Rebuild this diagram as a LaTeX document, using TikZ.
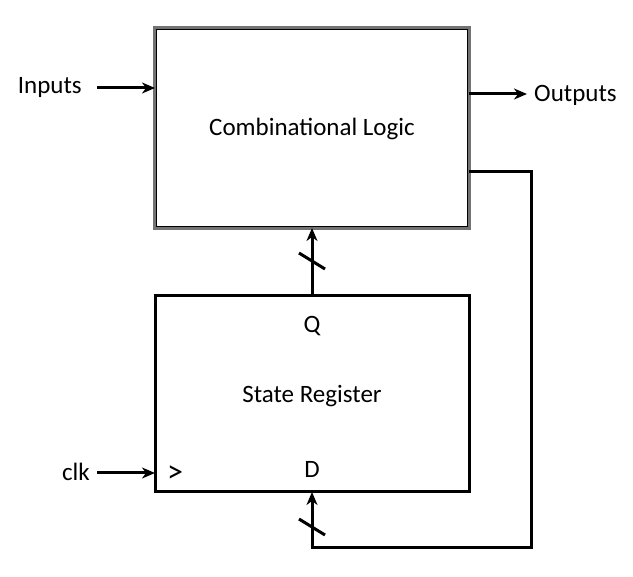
\documentclass[tikz,border=0pt]{standalone}
\usepackage{fontspec}
\setmainfont{Carlito}
\usetikzlibrary{arrows.meta}
\begin{document}
\begin{tikzpicture}[x=1pt,y=-1pt,
  wire/.style={line width=3pt},
  arr/.style={wire,-{Stealth[length=13pt,width=11pt,inset=4pt]}},
  lbl/.style={font=\fontsize{25}{30}\selectfont, inner sep=0pt},
  combbox/.style={draw=black!55, line width=3.2pt},
  combinner/.style={draw=black, line width=0.9pt},
  regbox/.style={draw=black, line width=3pt}]
\useasboundingbox (0,0) rectangle (633,577);
\draw[combbox] (155,28) rectangle (469,228);
\draw[combinner] (156.2,29.2) rectangle (467.8,226.8);
\node[lbl] (comb) at (312,129) {Combinational Logic};
\draw[regbox] (155,296) rectangle (469,492);
\node[lbl] (sr) at (312,396) {State Register};
\node[lbl] (q) at (312,326) {Q};
\node[lbl] (d) at (312,469) {D};
\node[lbl,font=\fontsize{32}{36}\selectfont] (gt) at (175,474) {>};
\node[lbl,anchor=east] (inp) at (82,87) {Inputs};
\node[lbl,anchor=west] (outp) at (534,95) {Outputs};
\node[lbl,anchor=east] (clk) at (90,472) {clk};
\coordinate (inS) at (97,88); \coordinate (inE) at (155,88);
\coordinate (oS) at (469,94); \coordinate (oE) at (527,94);
\coordinate (cS) at (97,473); \coordinate (cE) at (155,473);
\coordinate (qS) at (312,296); \coordinate (qE) at (312,228);
\coordinate (f0) at (469,172); \coordinate (f1) at (531,172);
\coordinate (f2) at (531,548); \coordinate (f3) at (312,548);
\coordinate (dE) at (312,492);
\draw[arr] (inS) -- (inE);
\draw[arr] (oS) -- (oE);
\draw[arr] (cS) -- (cE);
\draw[arr] (qS) -- (qE);
\draw[arr] (f0) -- (f1) -- (f2) -- (f3) -- (dE);
\coordinate (s1a) at (299,253); \coordinate (s1b) at (325,269);
\coordinate (s2a) at (299,519); \coordinate (s2b) at (325,535);
\draw[wire] (s1a) -- (s1b);
\draw[wire] (s2a) -- (s2b);
\end{tikzpicture}
\end{document}
